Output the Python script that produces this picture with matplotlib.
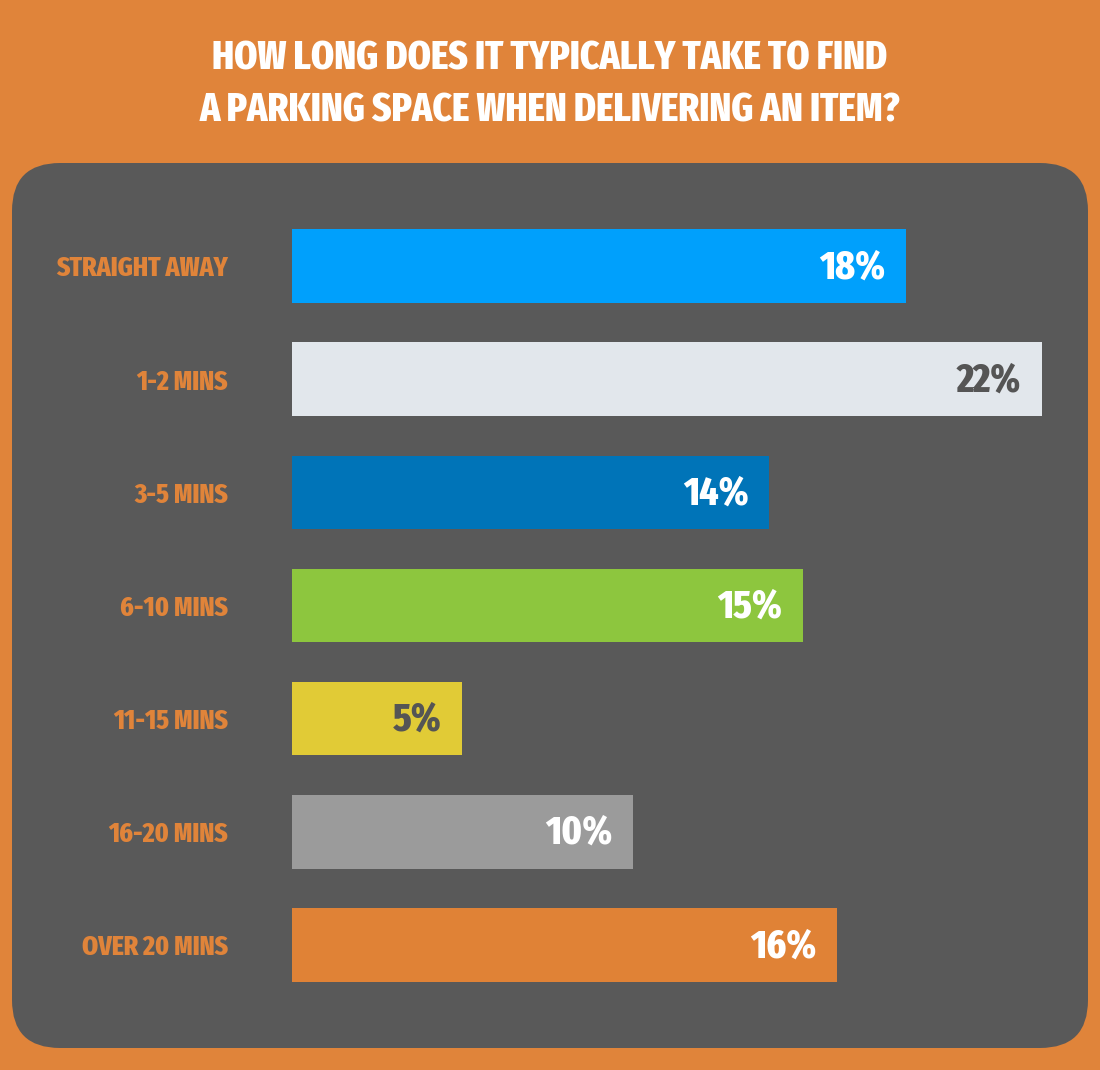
import matplotlib
matplotlib.use("Agg")
import matplotlib.pyplot as plt
from matplotlib import font_manager
from matplotlib.patches import FancyBboxPatch

# data
categories = ["STRAIGHT AWAY", "1-2 MINS", "3-5 MINS", "6-10 MINS",
              "11-15 MINS", "16-20 MINS", "OVER 20 MINS"]
values = [18, 22, 14, 15, 5, 10, 16]
bar_colors = ["#00A0FC", "#E2E7EC", "#0074B8", "#8DC63E",
              "#E1CB36", "#9B9B9B", "#E08236"]
value_colors = ["white", "#555555", "white", "white", "#555555", "white", "white"]
title_lines = ["HOW LONG DOES IT TYPICALLY TAKE TO FIND",
               "A PARKING SPACE WHEN DELIVERING AN ITEM?"]

ORANGE = "#E0843A"
PANEL = "#595959"


def find_condensed():
    # pick the narrowest bold face the system has
    best = None
    for f in font_manager.fontManager.ttflist:
        tag = (f.name + " " + f.fname).lower().replace("-", "").replace(" ", "")
        if "semicondensed" in tag:
            continue
        if "extracondensed" in tag:
            rank = 0
        elif "condensed" in tag or "narrow" in tag or f.stretch == "condensed":
            rank = 1
        else:
            continue
        w = f.weight if isinstance(f.weight, int) else {"bold": 700}.get(f.weight, 400)
        if w < 700 or "italic" in f.style or "oblique" in f.style:
            continue
        key = (rank, abs(w - 800), "noto" not in tag)
        if best is None or key < best[0]:
            best = (key, f.fname)
    return best[1] if best else None


fpath = find_condensed()
if fpath:
    FP = font_manager.FontProperties(fname=fpath)
else:
    FP = font_manager.FontProperties(family="DejaVu Sans", weight="bold")

W, H = 1100, 1070
fig = plt.figure(figsize=(W / 100, H / 100), dpi=100, facecolor=ORANGE)
renderer = fig.canvas.get_renderer()


def fit(t, width_px, max_size):
    # shrink a text until it is no wider than the reference
    t.set_fontsize(max_size)
    w = t.get_window_extent(renderer).width
    if w > width_px:
        t.set_fontsize(max_size * width_px / w)
    return t.get_fontsize()


# background panel in pixel coords
bg = fig.add_axes([0, 0, 1, 1])
bg.set_xlim(0, W)
bg.set_ylim(H, 0)
bg.axis("off")
panel = FancyBboxPatch((12, 163), 1076, 885,
                       boxstyle="round,pad=0,rounding_size=48",
                       facecolor=PANEL, edgecolor="none")
bg.add_patch(panel)

t1 = bg.text(550, 70, title_lines[0], ha="center", va="baseline", color="white",
             fontproperties=FP)
t2 = bg.text(550, 121, title_lines[1], ha="center", va="baseline", color="white",
             fontproperties=FP)
tsize = fit(t2, 700, 30)
t1.set_fontsize(tsize)

# bar axes: x 0..22 maps to px 292..1042
x0, x1 = 292, 1042
step = 113.2
y_top = 266 - step / 2
y_bot = 945 + step / 2
ax = fig.add_axes([x0 / W, 1 - y_bot / H, (x1 - x0) / W, (y_bot - y_top) / H])
ax.set_xlim(0, 22)
ax.set_ylim(len(categories) - 0.5, -0.5)
ax.patch.set_alpha(0)
for s in ax.spines.values():
    s.set_visible(False)

ypos = list(range(len(categories)))
ax.barh(ypos, values, height=0.65, color=bar_colors)
ax.set_xticks([])
ax.set_yticks(ypos)
ax.set_yticklabels(categories, color=ORANGE, fontproperties=FP)
ax.tick_params(axis="y", length=0, pad=46)
lab = ax.get_yticklabels()[0]
size = fit(lab, 172 if fpath else 205, 22)
for l in ax.get_yticklabels():
    l.set_fontsize(size)

vsize = None
for y, v, c in zip(ypos, values, value_colors):
    a = ax.annotate(f"{v}%", xy=(v, y), xytext=(-15, -1), textcoords="offset points",
                    ha="right", va="center", color=c, fontproperties=FP)
    if vsize is None:
        vsize = fit(a, 66 if fpath else 76, 31)
    a.set_fontsize(vsize)

fig.savefig("out.png", dpi=100, facecolor=ORANGE)
